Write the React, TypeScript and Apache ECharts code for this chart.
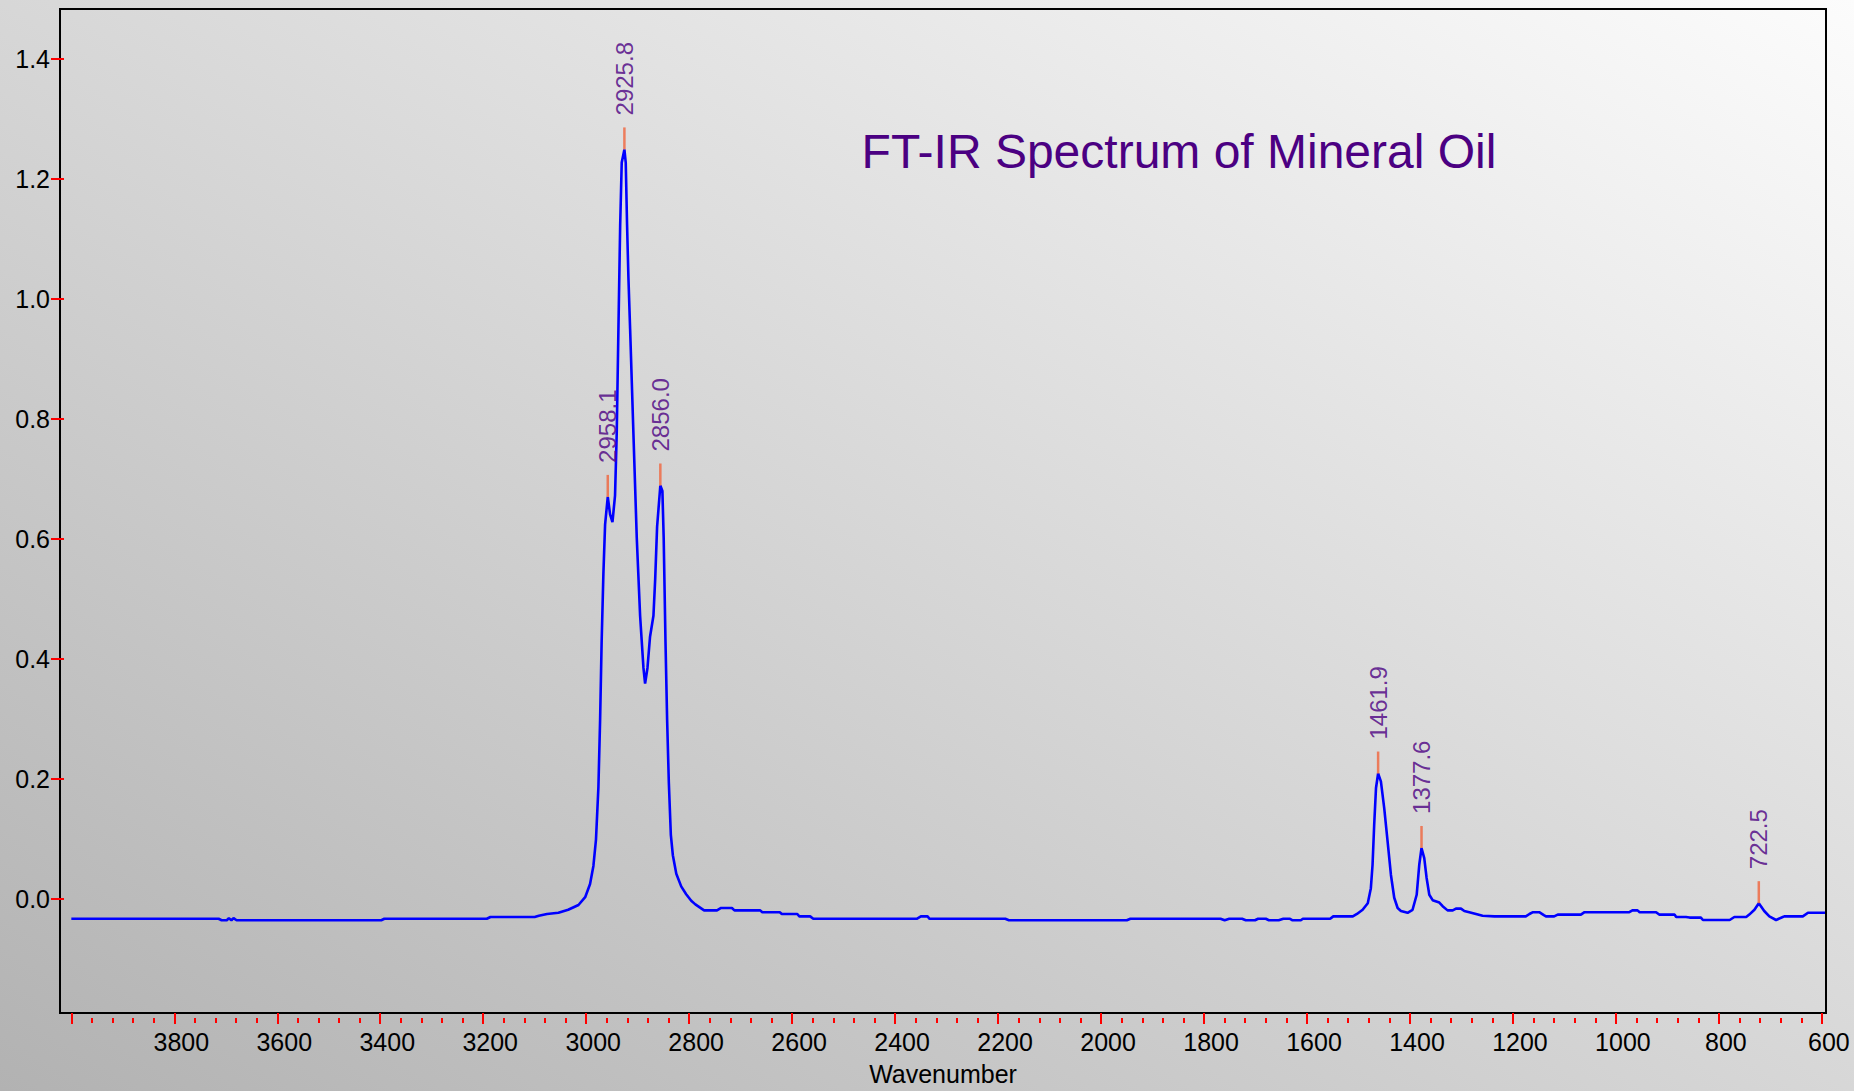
import React, { useEffect, useRef } from "react";
import * as echarts from "echarts";

const FONT = '"Liberation Sans", Arial, sans-serif';
const TITLE = "FT-IR Spectrum of Mineral Oil";

// Spectrum trace: wavenumber (cm-1), absorbance
const wavenumbers = [
  4000, 3714, 3708, 3698, 3694, 3689, 3685, 3679, 3398, 3392,
  3193, 3186, 3100, 3092, 3076, 3054, 3035, 3015, 3002, 2992.5,
  2986, 2981, 2976.3, 2973, 2970, 2966.6, 2963.3, 2958.1, 2953.6, 2949,
  2944, 2940.7, 2937.4, 2934, 2931, 2925.8, 2923.2, 2920.6, 2918, 2914.7,
  2908.3, 2901.8, 2895.3, 2888.8, 2885.6, 2881, 2876, 2869.4, 2866, 2862.3,
  2856.0, 2852, 2849.5, 2846, 2842.8, 2839.5, 2835.6, 2831.7, 2825, 2815.5,
  2805.8, 2796, 2788, 2771, 2746, 2738, 2717, 2712, 2662, 2658,
  2624, 2620, 2590, 2586, 2565, 2559, 2358, 2350, 2337, 2333,
  2186, 2179, 1950, 1943, 1768, 1760, 1751, 1726, 1719, 1701,
  1695, 1680, 1674, 1655, 1646, 1633, 1628, 1612, 1608, 1555,
  1549, 1511, 1503, 1492, 1482, 1476, 1472.7, 1469.5, 1466, 1461.9,
  1456.5, 1450, 1443.5, 1437, 1430.6, 1424, 1417.6, 1404.7, 1395, 1387,
  1382, 1377.6, 1372.3, 1367.7, 1362.5, 1356, 1343, 1336.6, 1327, 1317,
  1310.7, 1301, 1294.5, 1284.8, 1271.8, 1259, 1236, 1175, 1168, 1161,
  1149, 1140, 1136, 1120, 1113, 1068, 1061, 974, 968, 958,
  954, 922, 916, 886, 883, 864, 857, 835, 831, 779,
  770, 747, 741, 731, 722.5, 712, 702, 689, 676, 673,
  637, 627, 594,
];

const absorbance = [
  -0.033, -0.033, -0.0355, -0.0355, -0.032, -0.0355, -0.032, -0.0355, -0.0355, -0.033,
  -0.033, -0.03, -0.03, -0.028, -0.025, -0.023, -0.018, -0.01, 0.003, 0.025,
  0.055, 0.099, 0.186, 0.298, 0.429, 0.542, 0.624, 0.67, 0.641, 0.628,
  0.672, 0.776, 0.95, 1.123, 1.227, 1.249, 1.227, 1.123, 1.036, 0.95,
  0.776, 0.602, 0.472, 0.385, 0.359, 0.385, 0.437, 0.472, 0.533, 0.62,
  0.689, 0.68, 0.602, 0.429, 0.298, 0.194, 0.107, 0.073, 0.042, 0.021,
  0.008, -0.003, -0.009, -0.019, -0.019, -0.015, -0.015, -0.019, -0.019, -0.022,
  -0.022, -0.025, -0.025, -0.029, -0.029, -0.033, -0.033, -0.029, -0.029, -0.033,
  -0.033, -0.0355, -0.0355, -0.033, -0.033, -0.0355, -0.033, -0.033, -0.0355, -0.0355,
  -0.033, -0.033, -0.0355, -0.0355, -0.033, -0.033, -0.0355, -0.0355, -0.033, -0.033,
  -0.029, -0.029, -0.025, -0.018, -0.007, 0.018, 0.057, 0.124, 0.185, 0.209,
  0.196, 0.151, 0.096, 0.04, 0.002, -0.015, -0.02, -0.023, -0.018, 0.007,
  0.057, 0.085, 0.068, 0.035, 0.007, -0.002, -0.006, -0.012, -0.019, -0.019,
  -0.016, -0.016, -0.02, -0.022, -0.025, -0.028, -0.029, -0.029, -0.025, -0.022,
  -0.022, -0.027, -0.029, -0.029, -0.026, -0.026, -0.022, -0.022, -0.019, -0.019,
  -0.022, -0.022, -0.026, -0.026, -0.03, -0.03, -0.031, -0.031, -0.035, -0.035,
  -0.03, -0.03, -0.026, -0.018, -0.007, -0.02, -0.029, -0.035, -0.03, -0.029,
  -0.029, -0.023, -0.023,
];

// Labelled band maxima
const peakWavenumbers = [2958.1, 2925.8, 2856.0, 1461.9, 1377.6, 722.5];
const peakAbsorbance = [0.67, 1.249, 0.689, 0.209, 0.085, -0.007];

// Axis ticks and labels
const yTickValues = [0, 0.2, 0.4, 0.6, 0.8, 1.0, 1.2, 1.4];
const xMajorTicks = [4000, 3800, 3600, 3400, 3200, 3000, 2800, 2600, 2400, 2200, 2000, 1800, 1600, 1400, 1200, 1000, 800, 600];
const xLabelValues = [3800, 3600, 3400, 3200, 3000, 2800, 2600, 2400, 2200, 2000, 1800, 1600, 1400, 1200, 1000, 800, 600];

const X_MIN = 592;
const X_MAX = 4022;
const Y_MIN = -0.19;
const Y_MAX = 1.483;

const xMinorTicks: number[] = [];
for (let w = 4000; w >= 600; w -= 40) {
  if (w % 200 !== 0) xMinorTicks.push(w);
}

export default function App() {
  const ref = useRef<HTMLDivElement>(null);

  useEffect(() => {
    if (!ref.current) return;
    const chart = echarts.init(ref.current, undefined, { renderer: "svg" });

    const spectrum = wavenumbers.map((w, i) => [w, absorbance[i]]);
    const peaks = peakWavenumbers.map((w, i) => [w, peakAbsorbance[i]]);

    chart.setOption({
      animation: false,
      backgroundColor: new echarts.graphic.LinearGradient(0, 1, 1, 0, [
        { offset: 0, color: "#b2b2b2" },
        { offset: 1, color: "#fcfcfc" },
      ]),
      textStyle: { fontFamily: FONT },
      grid: {
        left: 60,
        right: 28,
        top: 9,
        bottom: 74,
        show: true,
        borderColor: "#000",
        borderWidth: 2,
        backgroundColor: "transparent",
      },
      graphic: [
        {
          type: "text",
          x: 1179,
          y: 151,
          style: {
            text: TITLE,
            fill: "#4B0082",
            fontSize: 48,
            fontFamily: FONT,
            align: "center",
            verticalAlign: "middle",
          },
        },
      ],
      xAxis: [
        {
          type: "value",
          inverse: true,
          min: X_MIN,
          max: X_MAX,
          axisLine: { show: false, onZero: false },
          splitLine: { show: false },
          axisTick: {
            show: true,
            customValues: xMajorTicks,
            length: 11,
            lineStyle: { color: "#ff0000", width: 2 },
          },
          axisLabel: {
            customValues: xLabelValues,
            formatter: (v: number) => String(v),
            fontSize: 25,
            color: "#000",
            margin: 16,
            padding: [0, 0, 0, 14],
            fontFamily: FONT,
          },
          name: "Wavenumber",
          nameLocation: "middle",
          nameGap: 48,
          nameTextStyle: { fontSize: 25, color: "#000", fontFamily: FONT },
        },
        {
          type: "value",
          inverse: true,
          min: X_MIN,
          max: X_MAX,
          position: "bottom",
          offset: 5,
          axisLine: { show: false, onZero: false },
          splitLine: { show: false },
          axisLabel: { show: false },
          axisTick: {
            show: true,
            customValues: xMinorTicks,
            length: 5,
            lineStyle: { color: "#ff0000", width: 2 },
          },
        },
      ],
      yAxis: [
        {
          type: "value",
          min: Y_MIN,
          max: Y_MAX,
          axisLine: { show: false, onZero: false },
          splitLine: { show: false },
          axisTick: {
            show: true,
            customValues: yTickValues,
            length: 9,
            lineStyle: { color: "#ff0000", width: 2 },
          },
          axisLabel: {
            customValues: yTickValues,
            formatter: (v: number) => v.toFixed(1),
            fontSize: 25,
            color: "#000",
            margin: 10,
            fontFamily: FONT,
          },
        },
        {
          type: "value",
          min: Y_MIN,
          max: Y_MAX,
          position: "left",
          offset: 0,
          axisLine: { show: false, onZero: false },
          splitLine: { show: false },
          axisLabel: { show: false },
          axisTick: {
            show: true,
            inside: true,
            customValues: yTickValues,
            length: 4,
            lineStyle: { color: "#ff0000", width: 2 },
          },
        },
      ],
      series: [
        {
          type: "line",
          data: spectrum,
          showSymbol: false,
          symbol: "none",
          lineStyle: { color: "#0000ff", width: 2.6 },
          itemStyle: { color: "#0000ff" },
          z: 3,
          silent: true,
        },
        {
          type: "scatter",
          data: peaks,
          symbol: "rect",
          symbolSize: [2.5, 22],
          symbolOffset: [0, -11],
          itemStyle: { color: "#f0643c" },
          silent: true,
          z: 4,
          label: {
            show: true,
            position: "top",
            distance: 12,
            rotate: 90,
            align: "left",
            verticalAlign: "middle",
            color: "#4B0082",
            fontSize: 24,
            fontFamily: FONT,
            formatter: (p: any) => Number(p.value[0]).toFixed(1),
          },
        },
      ],
    });

    return () => chart.dispose();
  }, []);

  return (
    <div
      ref={ref}
      style={{ position: "fixed", left: 0, top: 0, width: 1854, height: 1091 }}
    />
  );
}
